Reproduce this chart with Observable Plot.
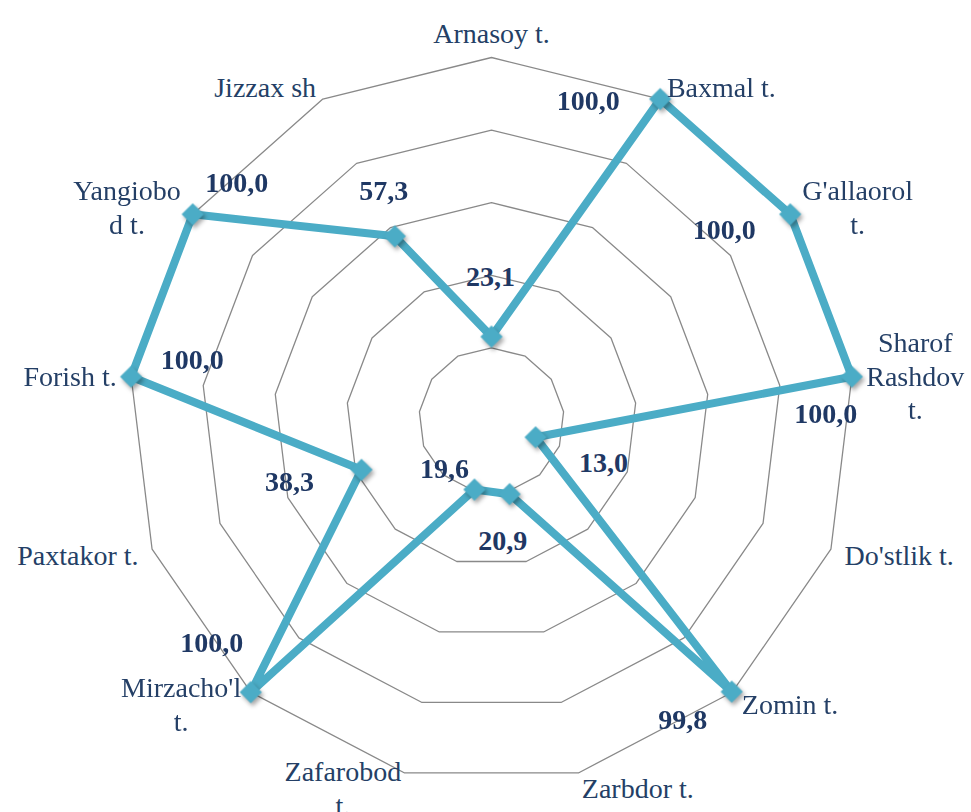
<!DOCTYPE html>
<html><head><meta charset="utf-8">
<script src="https://cdn.jsdelivr.net/npm/d3@7"></script>
<script src="https://cdn.jsdelivr.net/npm/@observablehq/plot@0.6"></script>
<style>
html,body{margin:0;padding:0;background:#fff;}
#chart svg{display:block;}
g[aria-label="dot"]{filter:drop-shadow(2px 3px 2px rgba(0,0,0,0.35));}
</style></head><body><div id="chart"></div>
<script>
// ---- data ----
const categories = ["Arnasoy t.", "Baxmal t.", "G'allaorol t.", "Sharof Rashdov t.", "Do'stlik t.", "Zomin t.", "Zarbdor t.", "Zafarobod t.", "Mirzacho'l t.", "Paxtakor t.", "Forish t.", "Yangiobod t.", "Jizzax sh"];
const categoryLabels = ["Arnasoy t.", "Baxmal t.", "G'allaorol\nt.", "Sharof\nRashdov\nt.", "Do'stlik t.", "Zomin t.", "Zarbdor t.", "Zafarobod\nt.", "Mirzacho'l\nt.", "Paxtakor t.", "Forish t.", "Yangiobo\nd t.", "Jizzax sh"];
const values = [23.1, 100.0, 100.0, 100.0, 13.0, 99.8, 20.9, 19.6, 100.0, 38.3, 100.0, 100.0, 57.3];
const gridLevels = [20, 40, 60, 80, 100];

// ---- layout (not data) ----
const W = 971, H = 812, cx = 491, cy = 420, R = 363;
const k = R / 100; // pixels per unit
const n = categories.length;
const fontSize = 28;
const serif = "Liberation Serif, Times New Roman, serif";
// manual data-label nudges in pixels (as placed in the original chart)
const labelNudge = [[-1,-60],[-72,2],[-66,16],[-26,37],[68,26],[-49,28],[-7,47],[-30,-21],[-39,-49],[-72,12],[61,-17],[44,-31],[-11,-45]];

const ang = i => i * 2 * Math.PI / n;
const px = (i, v) => v * Math.sin(ang(i));
const py = (i, v) => v * Math.cos(ang(i));

const ctx = document.createElement("canvas").getContext("2d");
ctx.font = `${fontSize}px ${serif}`;
const blockWidth = t => Math.max(...t.split("\n").map(l => ctx.measureText(l).width));

const gridData = gridLevels.flatMap(level => d3.range(n + 1).map(i => ({level, x: px(i % n, level), y: py(i % n, level)})));
const series = values.map((v, i) => ({cat: categories[i], v, i, x: px(i, v), y: py(i, v)}));
const closed = [...series, series[0]];
const fmt = v => v.toFixed(1).replace(".", ",");
const dataLabels = series.map((d, i) => ({text: fmt(d.v), x: d.x + labelNudge[i][0] / k, y: d.y - labelNudge[i][1] / k}));

const catData = categories.map((c, i) => {
  const s = Math.sin(ang(i));
  const t = categoryLabels[i];
  const side = s > 0.05 ? 1 : s < -0.05 ? -1 : 0;
  const half = blockWidth(t) / 2 / k;
  return {text: t, side, x: px(i, 104) + side * half, y: py(i, 104)};
});

const catColor = "#243f66";
const lblColor = "#1f3864";
const lineColor = "#4bacc6";

const chart = Plot.plot({
  width: W, height: H, margin: 0,
  x: {domain: [-cx / k, (W - cx) / k], axis: null},
  y: {domain: [(cy - H) / k, cy / k], axis: null},
  style: {background: "#fff"},
  marks: [
    Plot.line(gridData, {x: "x", y: "y", z: "level", stroke: "#898989", strokeWidth: 1.3}),
    Plot.line(closed, {x: "x", y: "y", stroke: lineColor, strokeWidth: 8, strokeLinejoin: "miter"}),
    Plot.dot(series, {x: "x", y: "y", symbol: "diamond2", r: 10, fill: lineColor, stroke: null}),
    Plot.text(catData.filter(d => d.side !== 0), {x: "x", y: "y", text: "text", textAnchor: "middle", lineAnchor: "middle", lineHeight: 1.2, fontSize, fontFamily: serif, fill: catColor}),
    Plot.text(catData.filter(d => d.side === 0), {x: "x", y: "y", text: "text", textAnchor: "middle", lineAnchor: "bottom", lineHeight: 1.2, fontSize, fontFamily: serif, fill: catColor}),
    Plot.text(dataLabels, {x: "x", y: "y", text: "text", fontSize, fontFamily: serif, fontWeight: "bold", fill: lblColor})
  ]
});
document.getElementById("chart").append(chart);
</script></body></html>
